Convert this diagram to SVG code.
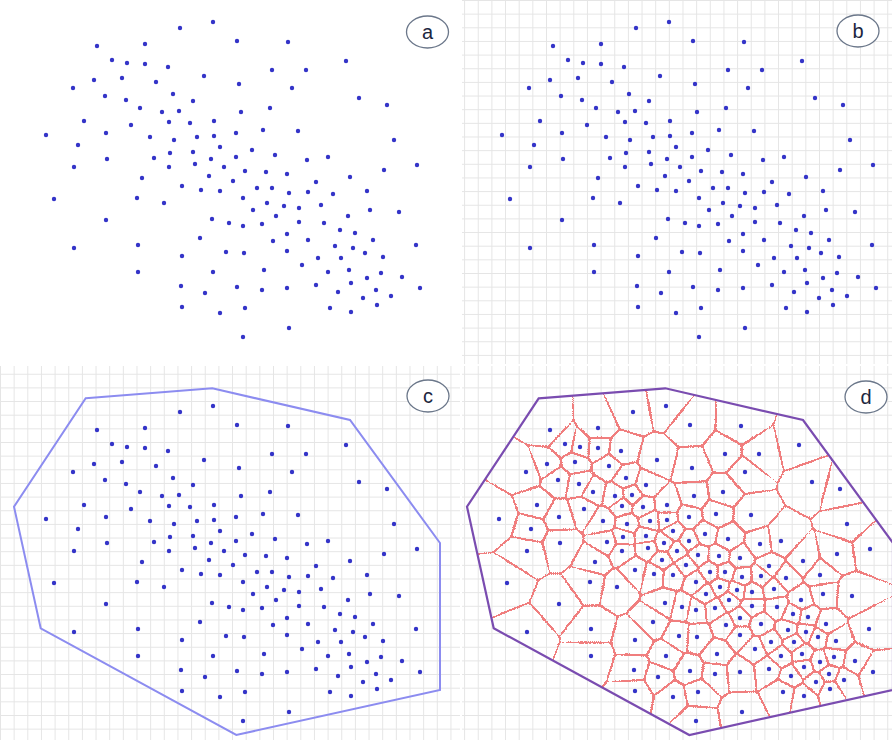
<svg xmlns="http://www.w3.org/2000/svg" xmlns:xlink="http://www.w3.org/1999/xlink" width="892" height="740" viewBox="0 0 892 740">
<style>
.dot{fill:#3434c8}
.gl{fill:none;stroke:#e5e5e5;stroke-width:1}
.lbl ellipse{fill:#fff;stroke:#6b778a;stroke-width:1.3}
.lbl text{font-family:"Liberation Sans",Arial,sans-serif;font-size:20px;fill:#1c2640;text-anchor:middle}
.cone{fill:url(#cone);mix-blend-mode:darken}
.hullC{fill:none;stroke:#8c8cf0;stroke-width:2}
.hullD{fill:none;stroke:#7a4cb0;stroke-width:2.2}
</style>
<defs>
<pattern id="gridT" patternUnits="userSpaceOnUse" x="0" y="0" width="13.65" height="13.65"><path class="gl" d="M0.5 0V13.65M0 0.5H13.65"/></pattern>
<pattern id="gridB" patternUnits="userSpaceOnUse" x="0" y="5.2" width="13.65" height="13.65"><path class="gl" d="M0.5 0V13.65M0 0.5H13.65"/></pattern>
<radialGradient id="cone">
<stop offset="0" stop-color="#000"/>
<stop offset="0.1345" stop-color="#383838"/>
<stop offset="0.2689" stop-color="#686868"/>
<stop offset="0.4034" stop-color="#909090"/>
<stop offset="0.5378" stop-color="#b2b2b2"/>
<stop offset="0.6723" stop-color="#cecece"/>
<stop offset="0.8067" stop-color="#e5e5e5"/>
<stop offset="0.9412" stop-color="#f8f8f8"/>
<stop offset="1" stop-color="#fff"/>
</radialGradient>
<filter id="vor" filterUnits="userSpaceOnUse" x="440" y="360" width="480" height="400" color-interpolation-filters="sRGB">
<feColorMatrix in="SourceGraphic" type="matrix" values="0 0 0 0 0 0 0 0 0 0 0 0 0 0 0 1 0 0 0 0" result="d"/>
<feGaussianBlur in="d" stdDeviation="1.5" result="b"/>
<feComposite in="d" in2="b" operator="arithmetic" k1="0" k2="175" k3="-175" k4="-0.88" result="m"/>
<feGaussianBlur in="m" stdDeviation="0.78" result="mb"/>
<feComponentTransfer in="mb" result="m2"><feFuncA type="linear" slope="3.15" intercept="-0.36"/></feComponentTransfer>
<feFlood flood-color="#f07e7e" result="c"/>
<feComposite in="c" in2="m2" operator="in"/>
</filter>
<clipPath id="clipD"><polygon points="538.7,398.3 665.3,388.3 803,420 893,543 893,690 689.3,735 493.7,628.3 467,506.7"/></clipPath>
<g id="pts" class="dot">
<circle cx="180" cy="28" r="2.2"/><circle cx="213" cy="22" r="2.2"/><circle cx="97" cy="46" r="2.2"/><circle cx="145" cy="44" r="2.2"/><circle cx="237" cy="41" r="2.2"/><circle cx="112" cy="60" r="2.2"/><circle cx="127" cy="63" r="2.2"/><circle cx="145" cy="64" r="2.2"/><circle cx="168" cy="67" r="2.2"/><circle cx="94" cy="80" r="2.2"/><circle cx="122" cy="78" r="2.2"/><circle cx="156" cy="82" r="2.2"/><circle cx="204" cy="76" r="2.2"/><circle cx="239" cy="84" r="2.2"/><circle cx="73" cy="88" r="2.2"/><circle cx="105" cy="96" r="2.2"/><circle cx="126" cy="100" r="2.2"/><circle cx="173" cy="94" r="2.2"/><circle cx="193" cy="101" r="2.2"/><circle cx="140" cy="108" r="2.2"/><circle cx="162" cy="112" r="2.2"/><circle cx="179" cy="111" r="2.2"/><circle cx="241" cy="112" r="2.2"/><circle cx="84" cy="121" r="2.2"/><circle cx="131" cy="125" r="2.2"/><circle cx="169" cy="122" r="2.2"/><circle cx="190" cy="123" r="2.2"/><circle cx="214" cy="121" r="2.2"/><circle cx="46" cy="135" r="2.2"/><circle cx="106" cy="133" r="2.2"/><circle cx="150" cy="137" r="2.2"/><circle cx="174" cy="140" r="2.2"/><circle cx="197" cy="137" r="2.2"/><circle cx="214" cy="136" r="2.2"/><circle cx="236" cy="133" r="2.2"/><circle cx="78" cy="145" r="2.2"/><circle cx="220" cy="147" r="2.2"/><circle cx="154" cy="158" r="2.2"/><circle cx="170" cy="153" r="2.2"/><circle cx="193" cy="152" r="2.2"/><circle cx="211" cy="159" r="2.2"/><circle cx="236" cy="157" r="2.2"/><circle cx="107" cy="159" r="2.2"/><circle cx="74" cy="167" r="2.2"/><circle cx="169" cy="167" r="2.2"/><circle cx="195" cy="164" r="2.2"/><circle cx="224" cy="167" r="2.2"/><circle cx="142" cy="178" r="2.2"/><circle cx="209" cy="176" r="2.2"/><circle cx="245" cy="171" r="2.2"/><circle cx="233" cy="181" r="2.2"/><circle cx="288" cy="42" r="2.2"/><circle cx="346" cy="61" r="2.2"/><circle cx="272" cy="70" r="2.2"/><circle cx="306" cy="70" r="2.2"/><circle cx="292" cy="88" r="2.2"/><circle cx="359" cy="98" r="2.2"/><circle cx="387" cy="105" r="2.2"/><circle cx="270" cy="108" r="2.2"/><circle cx="263" cy="130" r="2.2"/><circle cx="298" cy="131" r="2.2"/><circle cx="394" cy="140" r="2.2"/><circle cx="252" cy="150" r="2.2"/><circle cx="275" cy="155" r="2.2"/><circle cx="307" cy="160" r="2.2"/><circle cx="328" cy="157" r="2.2"/><circle cx="417" cy="165" r="2.2"/><circle cx="266" cy="172" r="2.2"/><circle cx="287" cy="174" r="2.2"/><circle cx="350" cy="177" r="2.2"/><circle cx="384" cy="170" r="2.2"/><circle cx="182" cy="186" r="2.2"/><circle cx="201" cy="190" r="2.2"/><circle cx="220" cy="191" r="2.2"/><circle cx="243" cy="198" r="2.2"/><circle cx="54" cy="199" r="2.2"/><circle cx="137" cy="198" r="2.2"/><circle cx="164" cy="203" r="2.2"/><circle cx="106" cy="220" r="2.2"/><circle cx="212" cy="219" r="2.2"/><circle cx="229" cy="223" r="2.2"/><circle cx="243" cy="226" r="2.2"/><circle cx="200" cy="238" r="2.2"/><circle cx="74" cy="248" r="2.2"/><circle cx="138" cy="245" r="2.2"/><circle cx="182" cy="256" r="2.2"/><circle cx="226" cy="252" r="2.2"/><circle cx="244" cy="253" r="2.2"/><circle cx="138" cy="272" r="2.2"/><circle cx="213" cy="272" r="2.2"/><circle cx="181" cy="286" r="2.2"/><circle cx="205" cy="293" r="2.2"/><circle cx="237" cy="287" r="2.2"/><circle cx="182" cy="307" r="2.2"/><circle cx="220" cy="313" r="2.2"/><circle cx="243" cy="337" r="2.2"/><circle cx="245" cy="308" r="2.2"/><circle cx="316" cy="182" r="2.2"/><circle cx="257" cy="188" r="2.2"/><circle cx="272" cy="188" r="2.2"/><circle cx="289" cy="193" r="2.2"/><circle cx="308" cy="192" r="2.2"/><circle cx="333" cy="194" r="2.2"/><circle cx="367" cy="191" r="2.2"/><circle cx="267" cy="203" r="2.2"/><circle cx="253" cy="210" r="2.2"/><circle cx="284" cy="206" r="2.2"/><circle cx="299" cy="208" r="2.2"/><circle cx="321" cy="205" r="2.2"/><circle cx="370" cy="210" r="2.2"/><circle cx="399" cy="212" r="2.2"/><circle cx="276" cy="216" r="2.2"/><circle cx="348" cy="216" r="2.2"/><circle cx="262" cy="224" r="2.2"/><circle cx="299" cy="222" r="2.2"/><circle cx="324" cy="223" r="2.2"/><circle cx="340" cy="230" r="2.2"/><circle cx="355" cy="233" r="2.2"/><circle cx="287" cy="234" r="2.2"/><circle cx="273" cy="241" r="2.2"/><circle cx="308" cy="240" r="2.2"/><circle cx="373" cy="240" r="2.2"/><circle cx="416" cy="245" r="2.2"/><circle cx="335" cy="246" r="2.2"/><circle cx="353" cy="248" r="2.2"/><circle cx="287" cy="251" r="2.2"/><circle cx="365" cy="253" r="2.2"/><circle cx="318" cy="258" r="2.2"/><circle cx="341" cy="258" r="2.2"/><circle cx="383" cy="257" r="2.2"/><circle cx="302" cy="265" r="2.2"/><circle cx="264" cy="270" r="2.2"/><circle cx="349" cy="270" r="2.2"/><circle cx="328" cy="272" r="2.2"/><circle cx="381" cy="273" r="2.2"/><circle cx="367" cy="278" r="2.2"/><circle cx="402" cy="277" r="2.2"/><circle cx="351" cy="283" r="2.2"/><circle cx="262" cy="290" r="2.2"/><circle cx="287" cy="288" r="2.2"/><circle cx="316" cy="285" r="2.2"/><circle cx="338" cy="292" r="2.2"/><circle cx="376" cy="290" r="2.2"/><circle cx="420" cy="288" r="2.2"/><circle cx="391" cy="296" r="2.2"/><circle cx="363" cy="298" r="2.2"/><circle cx="330" cy="308" r="2.2"/><circle cx="377" cy="305" r="2.2"/><circle cx="351" cy="312" r="2.2"/><circle cx="289" cy="328" r="2.2"/>
</g>
</defs>
<rect width="892" height="740" fill="#fff"/>
<g id="panel-a">
<use href="#pts"/>
<g class="lbl"><ellipse cx="427.5" cy="32" rx="21" ry="16"/><text x="427.5" y="39">a</text></g>
</g>
<g id="panel-b">
<rect x="462" y="0" width="430" height="364" fill="url(#gridT)"/>
<use href="#pts" transform="translate(456,0)"/>
<g class="lbl"><ellipse cx="858" cy="31" rx="21" ry="16"/><text x="858" y="38">b</text></g>
</g>
<g id="panel-c">
<rect x="0" y="366" width="460" height="374" fill="url(#gridB)"/>
<polygon class="hullC" points="85.7,398.3 212.3,388.3 350,420 440,543 440,690 236.3,735 40.7,628.3 14,506.7"/>
<use href="#pts" transform="translate(0,384)"/>
<g class="lbl"><ellipse cx="428" cy="396" rx="21" ry="16"/><text x="428" y="403">c</text></g>
</g>
<g id="panel-d">
<rect x="462" y="366" width="430" height="374" fill="url(#gridB)"/>
<g id="voronoi" clip-path="url(#clipD)">
<g filter="url(#vor)">
<rect x="420" y="340" width="520" height="440" fill="#fff"/>
<g transform="translate(453,384)">
<circle class="cone" cx="180" cy="28" r="59.5"/><circle class="cone" cx="213" cy="22" r="59.5"/><circle class="cone" cx="97" cy="46" r="59.5"/><circle class="cone" cx="145" cy="44" r="59.5"/><circle class="cone" cx="237" cy="41" r="59.5"/><circle class="cone" cx="112" cy="60" r="59.5"/><circle class="cone" cx="127" cy="63" r="59.5"/><circle class="cone" cx="145" cy="64" r="59.5"/><circle class="cone" cx="168" cy="67" r="59.5"/><circle class="cone" cx="94" cy="80" r="59.5"/><circle class="cone" cx="122" cy="78" r="59.5"/><circle class="cone" cx="156" cy="82" r="59.5"/><circle class="cone" cx="204" cy="76" r="59.5"/><circle class="cone" cx="239" cy="84" r="59.5"/><circle class="cone" cx="73" cy="88" r="59.5"/><circle class="cone" cx="105" cy="96" r="59.5"/><circle class="cone" cx="126" cy="100" r="59.5"/><circle class="cone" cx="173" cy="94" r="59.5"/><circle class="cone" cx="193" cy="101" r="59.5"/><circle class="cone" cx="140" cy="108" r="59.5"/><circle class="cone" cx="162" cy="112" r="59.5"/><circle class="cone" cx="179" cy="111" r="59.5"/><circle class="cone" cx="241" cy="112" r="59.5"/><circle class="cone" cx="84" cy="121" r="59.5"/><circle class="cone" cx="131" cy="125" r="59.5"/><circle class="cone" cx="169" cy="122" r="59.5"/><circle class="cone" cx="190" cy="123" r="59.5"/><circle class="cone" cx="214" cy="121" r="59.5"/><circle class="cone" cx="46" cy="135" r="59.5"/><circle class="cone" cx="106" cy="133" r="59.5"/><circle class="cone" cx="150" cy="137" r="59.5"/><circle class="cone" cx="174" cy="140" r="59.5"/><circle class="cone" cx="197" cy="137" r="59.5"/><circle class="cone" cx="214" cy="136" r="59.5"/><circle class="cone" cx="236" cy="133" r="59.5"/><circle class="cone" cx="78" cy="145" r="59.5"/><circle class="cone" cx="220" cy="147" r="59.5"/><circle class="cone" cx="154" cy="158" r="59.5"/><circle class="cone" cx="170" cy="153" r="59.5"/><circle class="cone" cx="193" cy="152" r="59.5"/><circle class="cone" cx="211" cy="159" r="59.5"/><circle class="cone" cx="236" cy="157" r="59.5"/><circle class="cone" cx="107" cy="159" r="59.5"/><circle class="cone" cx="74" cy="167" r="59.5"/><circle class="cone" cx="169" cy="167" r="59.5"/><circle class="cone" cx="195" cy="164" r="59.5"/><circle class="cone" cx="224" cy="167" r="59.5"/><circle class="cone" cx="142" cy="178" r="59.5"/><circle class="cone" cx="209" cy="176" r="59.5"/><circle class="cone" cx="245" cy="171" r="59.5"/><circle class="cone" cx="233" cy="181" r="59.5"/><circle class="cone" cx="288" cy="42" r="59.5"/><circle class="cone" cx="346" cy="61" r="59.5"/><circle class="cone" cx="272" cy="70" r="59.5"/><circle class="cone" cx="306" cy="70" r="59.5"/><circle class="cone" cx="292" cy="88" r="59.5"/><circle class="cone" cx="359" cy="98" r="59.5"/><circle class="cone" cx="387" cy="105" r="59.5"/><circle class="cone" cx="270" cy="108" r="59.5"/><circle class="cone" cx="263" cy="130" r="59.5"/><circle class="cone" cx="298" cy="131" r="59.5"/><circle class="cone" cx="394" cy="140" r="59.5"/><circle class="cone" cx="252" cy="150" r="59.5"/><circle class="cone" cx="275" cy="155" r="59.5"/><circle class="cone" cx="307" cy="160" r="59.5"/><circle class="cone" cx="328" cy="157" r="59.5"/><circle class="cone" cx="417" cy="165" r="59.5"/><circle class="cone" cx="266" cy="172" r="59.5"/><circle class="cone" cx="287" cy="174" r="59.5"/><circle class="cone" cx="350" cy="177" r="59.5"/><circle class="cone" cx="384" cy="170" r="59.5"/><circle class="cone" cx="182" cy="186" r="59.5"/><circle class="cone" cx="201" cy="190" r="59.5"/><circle class="cone" cx="220" cy="191" r="59.5"/><circle class="cone" cx="243" cy="198" r="59.5"/><circle class="cone" cx="54" cy="199" r="59.5"/><circle class="cone" cx="137" cy="198" r="59.5"/><circle class="cone" cx="164" cy="203" r="59.5"/><circle class="cone" cx="106" cy="220" r="59.5"/><circle class="cone" cx="212" cy="219" r="59.5"/><circle class="cone" cx="229" cy="223" r="59.5"/><circle class="cone" cx="243" cy="226" r="59.5"/><circle class="cone" cx="200" cy="238" r="59.5"/><circle class="cone" cx="74" cy="248" r="59.5"/><circle class="cone" cx="138" cy="245" r="59.5"/><circle class="cone" cx="182" cy="256" r="59.5"/><circle class="cone" cx="226" cy="252" r="59.5"/><circle class="cone" cx="244" cy="253" r="59.5"/><circle class="cone" cx="138" cy="272" r="59.5"/><circle class="cone" cx="213" cy="272" r="59.5"/><circle class="cone" cx="181" cy="286" r="59.5"/><circle class="cone" cx="205" cy="293" r="59.5"/><circle class="cone" cx="237" cy="287" r="59.5"/><circle class="cone" cx="182" cy="307" r="59.5"/><circle class="cone" cx="220" cy="313" r="59.5"/><circle class="cone" cx="243" cy="337" r="59.5"/><circle class="cone" cx="245" cy="308" r="59.5"/><circle class="cone" cx="316" cy="182" r="59.5"/><circle class="cone" cx="257" cy="188" r="59.5"/><circle class="cone" cx="272" cy="188" r="59.5"/><circle class="cone" cx="289" cy="193" r="59.5"/><circle class="cone" cx="308" cy="192" r="59.5"/><circle class="cone" cx="333" cy="194" r="59.5"/><circle class="cone" cx="367" cy="191" r="59.5"/><circle class="cone" cx="267" cy="203" r="59.5"/><circle class="cone" cx="253" cy="210" r="59.5"/><circle class="cone" cx="284" cy="206" r="59.5"/><circle class="cone" cx="299" cy="208" r="59.5"/><circle class="cone" cx="321" cy="205" r="59.5"/><circle class="cone" cx="370" cy="210" r="59.5"/><circle class="cone" cx="399" cy="212" r="59.5"/><circle class="cone" cx="276" cy="216" r="59.5"/><circle class="cone" cx="348" cy="216" r="59.5"/><circle class="cone" cx="262" cy="224" r="59.5"/><circle class="cone" cx="299" cy="222" r="59.5"/><circle class="cone" cx="324" cy="223" r="59.5"/><circle class="cone" cx="340" cy="230" r="59.5"/><circle class="cone" cx="355" cy="233" r="59.5"/><circle class="cone" cx="287" cy="234" r="59.5"/><circle class="cone" cx="273" cy="241" r="59.5"/><circle class="cone" cx="308" cy="240" r="59.5"/><circle class="cone" cx="373" cy="240" r="59.5"/><circle class="cone" cx="416" cy="245" r="59.5"/><circle class="cone" cx="335" cy="246" r="59.5"/><circle class="cone" cx="353" cy="248" r="59.5"/><circle class="cone" cx="287" cy="251" r="59.5"/><circle class="cone" cx="365" cy="253" r="59.5"/><circle class="cone" cx="318" cy="258" r="59.5"/><circle class="cone" cx="341" cy="258" r="59.5"/><circle class="cone" cx="383" cy="257" r="59.5"/><circle class="cone" cx="302" cy="265" r="59.5"/><circle class="cone" cx="264" cy="270" r="59.5"/><circle class="cone" cx="349" cy="270" r="59.5"/><circle class="cone" cx="328" cy="272" r="59.5"/><circle class="cone" cx="381" cy="273" r="59.5"/><circle class="cone" cx="367" cy="278" r="59.5"/><circle class="cone" cx="402" cy="277" r="59.5"/><circle class="cone" cx="351" cy="283" r="59.5"/><circle class="cone" cx="262" cy="290" r="59.5"/><circle class="cone" cx="287" cy="288" r="59.5"/><circle class="cone" cx="316" cy="285" r="59.5"/><circle class="cone" cx="338" cy="292" r="59.5"/><circle class="cone" cx="376" cy="290" r="59.5"/><circle class="cone" cx="420" cy="288" r="59.5"/><circle class="cone" cx="391" cy="296" r="59.5"/><circle class="cone" cx="363" cy="298" r="59.5"/><circle class="cone" cx="330" cy="308" r="59.5"/><circle class="cone" cx="377" cy="305" r="59.5"/><circle class="cone" cx="351" cy="312" r="59.5"/><circle class="cone" cx="289" cy="328" r="59.5"/>
</g>
</g>
</g>
<polygon class="hullD" points="538.7,398.3 665.3,388.3 803,420 893,543 893,690 689.3,735 493.7,628.3 467,506.7"/>
<use href="#pts" transform="translate(453,384)"/>
<g class="lbl"><ellipse cx="866" cy="397" rx="21" ry="16"/><text x="866" y="404">d</text></g>
</g>
</svg>
